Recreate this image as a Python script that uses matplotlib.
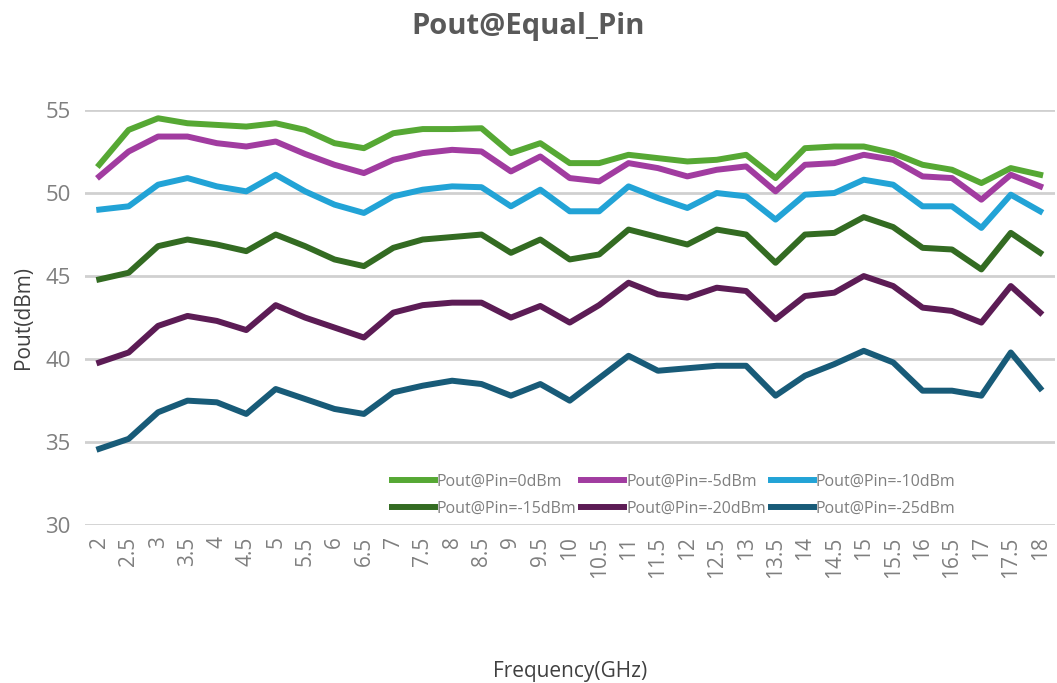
import matplotlib
matplotlib.use("Agg")
import matplotlib.pyplot as plt
import numpy as np

plt.rcParams['font.family'] = ['Open Sans', 'DejaVu Sans']

freq = ["2", "2.5", "3", "3.5", "4", "4.5", "5", "5.5", "6", "6.5", "7", "7.5", "8", "8.5",
        "9", "9.5", "10", "10.5", "11", "11.5", "12", "12.5", "13", "13.5", "14", "14.5",
        "15", "15.5", "16", "16.5", "17", "17.5", "18"]

pin_0 = [51.7, 53.8, 54.5, 54.2, 54.1, 54.0, 54.2, 53.8, 53.0, 52.7, 53.6, 53.85, 53.85, 53.9,
         52.4, 53.0, 51.8, 51.8, 52.3, 52.1, 51.9, 52.0, 52.3, 50.9, 52.7, 52.8, 52.8, 52.4,
         51.7, 51.4, 50.6, 51.5, 51.1]
pin_m5 = [51.0, 52.5, 53.4, 53.4, 53.0, 52.8, 53.1, 52.35, 51.7, 51.2, 52.0, 52.4, 52.6, 52.5,
          51.3, 52.2, 50.9, 50.7, 51.8, 51.5, 51.0, 51.4, 51.6, 50.1, 51.7, 51.8, 52.3, 52.0,
          51.0, 50.9, 49.6, 51.1, 50.4]
pin_m10 = [49.0, 49.2, 50.5, 50.9, 50.4, 50.1, 51.1, 50.1, 49.3, 48.8, 49.8, 50.2, 50.4, 50.35,
           49.2, 50.2, 48.9, 48.9, 50.4, 49.7, 49.1, 50.0, 49.8, 48.4, 49.9, 50.0, 50.8, 50.5,
           49.2, 49.2, 47.9, 49.9, 48.9]
pin_m15 = [44.8, 45.2, 46.8, 47.2, 46.9, 46.5, 47.5, 46.8, 46.0, 45.6, 46.7, 47.2, 47.35, 47.5,
           46.4, 47.2, 46.0, 46.3, 47.8, 47.35, 46.9, 47.8, 47.5, 45.8, 47.5, 47.6, 48.55, 47.95,
           46.7, 46.6, 45.4, 47.6, 46.4]
pin_m20 = [39.8, 40.4, 42.0, 42.6, 42.3, 41.75, 43.25, 42.5, 41.9, 41.3, 42.8, 43.25, 43.4, 43.4,
           42.5, 43.2, 42.2, 43.25, 44.6, 43.9, 43.7, 44.3, 44.1, 42.4, 43.8, 44.0, 45.0, 44.4,
           43.1, 42.9, 42.2, 44.4, 42.8]
pin_m25 = [34.6, 35.2, 36.8, 37.5, 37.4, 36.7, 38.2, 37.6, 37.0, 36.7, 38.0, 38.4, 38.7, 38.5,
           37.8, 38.5, 37.5, 38.85, 40.2, 39.3, 39.45, 39.6, 39.6, 37.8, 39.0, 39.7, 40.5, 39.8,
           38.1, 38.1, 37.8, 40.4, 38.25]

labels = ["Pout@Pin=0dBm", "Pout@Pin=-5dBm", "Pout@Pin=-10dBm",
          "Pout@Pin=-15dBm", "Pout@Pin=-20dBm", "Pout@Pin=-25dBm"]
colors = ["#56a834", "#a13ca0", "#22a3d6", "#336b22", "#5c1c55", "#185b78"]
series = [pin_0, pin_m5, pin_m10, pin_m15, pin_m20, pin_m25]

gray = "#7f7f7f"
fig = plt.figure(figsize=(10.57, 6.83), dpi=100)
ax = fig.add_axes([0.080, 0.231, 0.918, 0.608])

x = np.arange(len(freq))
lines = []
for vals, lab, col in zip(series, labels, colors):
    ln, = ax.plot(x, vals, color=col, lw=4.3, label=lab, solid_joinstyle="round")
    lines.append(ln)

ax.set_xlim(-0.5, len(freq) - 0.5)
ax.set_ylim(30, 55)
ax.set_yticks([30, 35, 40, 45, 50, 55])
ax.set_xticks(x)
ax.set_xticklabels(freq, rotation=90, fontsize=15, color=gray)
ax.tick_params(axis="y", labelsize=16, colors=gray, length=0, pad=10)
ax.tick_params(axis="x", length=0, pad=8)
ax.grid(axis="y", color="#d0d0d0", lw=2)
ax.set_axisbelow(True)
for s in ax.spines.values():
    s.set_visible(False)

ax.set_xlabel("Frequency(GHz)", fontsize=15, color="#404040", labelpad=60)
ax.set_ylabel("Pout(dBm)", fontsize=15, color="#404040", labelpad=8)
fig.suptitle("Pout@Equal_Pin", fontsize=21, fontweight="bold", color="#595959", y=0.982)

# legend filled row by row like the original
order = [0, 3, 1, 4, 2, 5]
ax.legend([lines[i] for i in order], [labels[i] for i in order],
          loc="center", bbox_to_anchor=(0.607, 0.072), ncol=3, frameon=False,
          fontsize=11.5, labelcolor=gray, handlelength=2.7, handletextpad=0.1,
          columnspacing=0.3, labelspacing=0.7)

fig.savefig("out.png", dpi=100, facecolor="white")
